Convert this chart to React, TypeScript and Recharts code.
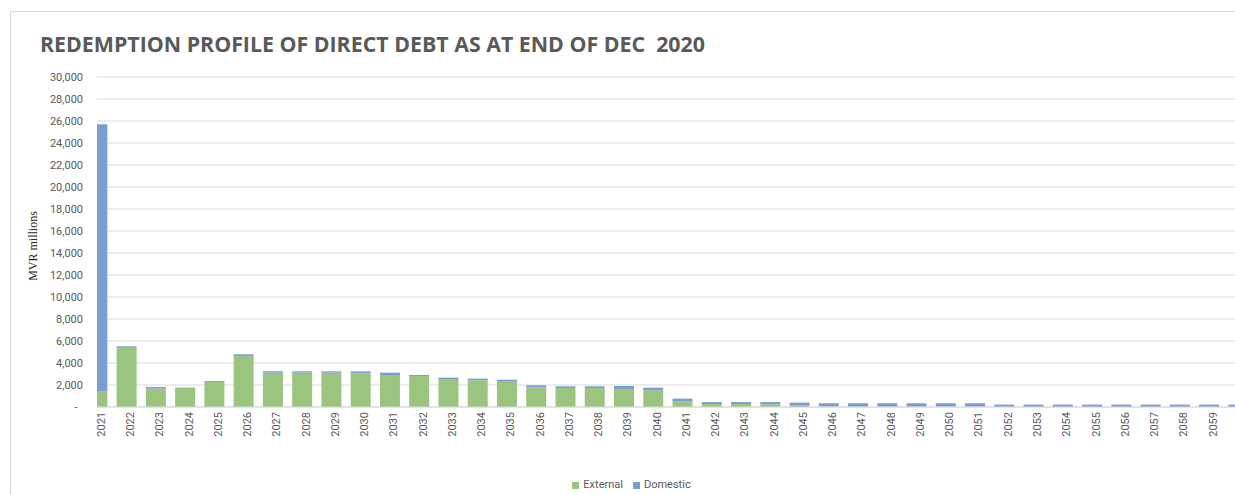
import React from 'react';
import { BarChart, Bar, XAxis, YAxis, CartesianGrid, Legend } from 'recharts';

const years = [
  2021, 2022, 2023, 2024, 2025, 2026, 2027, 2028, 2029, 2030,
  2031, 2032, 2033, 2034, 2035, 2036, 2037, 2038, 2039, 2040,
  2041, 2042, 2043, 2044, 2045, 2046, 2047, 2048, 2049, 2050,
  2051, 2052, 2053, 2054, 2055, 2056, 2057, 2058, 2059, 2060,
];

const external = [
  1450, 5450, 1670, 1730, 2280, 4610, 3120, 3120, 3120, 3060,
  2910, 2820, 2480, 2430, 2300, 1790, 1730, 1730, 1640, 1520,
  520, 270, 270, 250, 150, 60, 50, 50, 50, 40,
  40, 10, 10, 10, 10, 10, 10, 10, 10, 10,
];

const domestic = [
  24250, 70, 150, 30, 80, 180, 120, 120, 120, 180,
  210, 90, 190, 150, 180, 180, 150, 150, 270, 240,
  240, 180, 180, 200, 250, 280, 290, 290, 290, 300,
  300, 210, 210, 210, 210, 210, 210, 210, 210, 210,
];

// tick labels visible in the reference (the last category's label falls off the picture)
const xTickYears = years.filter((y) => y !== 2060);

const yTicks = [0, 2000, 4000, 6000, 8000, 10000, 12000, 14000, 16000, 18000, 20000, 22000, 24000, 26000, 28000, 30000];

const seriesOrder = ['External', 'Domestic'];

const title = 'REDEMPTION PROFILE OF DIRECT DEBT AS AT END OF DEC  2020';
const yLabel = 'MVR millions';

const data = years.map((y, i) => ({ year: y, External: external[i], Domestic: domestic[i] }));

const GREEN = '#9BC57E';
const BLUE = '#7C9CD6';
const TEXT = '#595959';

const fmtY = (v: number) => (v === 0 ? '-\u00A0\u00A0' : v.toLocaleString('en-US'));

const YLabelContent = (props: any) => {
  const vb = props.viewBox || { x: 0, y: 0, width: 0, height: 0 };
  const cx = vb.x + 22;
  const cy = vb.y + vb.height / 2 + 4;
  return (
    <text
      x={cx}
      y={cy}
      transform={`rotate(-90, ${cx}, ${cy})`}
      textAnchor="middle"
      dominantBaseline="central"
      fontFamily="'Liberation Serif', 'DejaVu Serif', serif"
      fontSize={12}
      fill="#262626"
    >
      {yLabel}
    </text>
  );
};

export default function App() {
  return (
    <div style={{ position: 'absolute', left: 0, top: 0, width: 1235, height: 495, overflow: 'hidden', background: '#fff' }}>
      <div
        style={{
          position: 'absolute',
          left: 10,
          top: 11,
          width: 1300,
          height: 520,
          border: '1px solid #d9d9d9',
          background: '#fff',
          fontFamily: 'Roboto, sans-serif',
        }}
      >
        <svg width={800} height={60} style={{ position: 'absolute', left: 0, top: 0 }}>
          <text
            x={29}
            y={40}
            fontFamily="'Open Sans', sans-serif"
            fontWeight={700}
            fontSize={22}
            fill={TEXT}
            textLength={665}
            lengthAdjust="spacingAndGlyphs"
            style={{ whiteSpace: 'pre' }}
          >
            {title}
          </text>
        </svg>
        <BarChart
          width={1240}
          height={483}
          data={data}
          margin={{ top: 65, right: 13, left: 0, bottom: 0 }}
          style={{ position: 'absolute', left: 0, top: 0 }}
        >
          <CartesianGrid vertical={false} stroke="#d9d9d9" />
          <XAxis
            type="number"
            dataKey="year"
            domain={[2021, 2060]}
            allowDataOverflow
            ticks={xTickYears}
            interval={0}
            tickLine={false}
            tickSize={3}
            tickMargin={2}
            height={68}
            axisLine={{ stroke: '#d9d9d9' }}
            tickFormatter={(v: number) => String(v)}
            tick={{ angle: -90, textAnchor: 'end', verticalAnchor: 'middle', fontSize: 11, fill: TEXT }}
          />
          <YAxis
            width={86}
            domain={[0, 30000]}
            ticks={yTicks}
            interval={0}
            axisLine={false}
            tickLine={false}
            tickSize={6}
            tickMargin={8}
            tickFormatter={fmtY}
            tick={{ fontSize: 11, fill: TEXT }}
            label={{ content: YLabelContent }}
          />
          <Legend
            verticalAlign="bottom"
            iconType="square"
            iconSize={7}
            itemSorter={(item: any) => seriesOrder.indexOf(String(item.dataKey ?? item.value))}
            wrapperStyle={{ height: 20, lineHeight: '20px', fontSize: 11, left: 12 }}
            formatter={(value: string) => <span style={{ color: TEXT, fontSize: 11 }}>{value}</span>}
          />
          <Bar dataKey="External" stackId="a" fill={GREEN} barSize={20} isAnimationActive={false} />
          <Bar dataKey="Domestic" stackId="a" fill={BLUE} barSize={20} isAnimationActive={false} />
        </BarChart>
      </div>
    </div>
  );
}
